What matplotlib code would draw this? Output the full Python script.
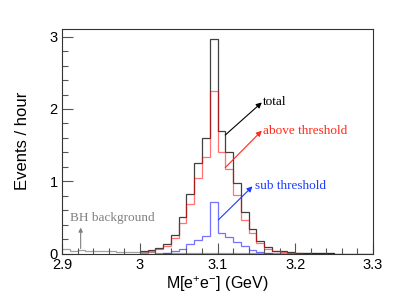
import matplotlib
matplotlib.use("Agg")
import matplotlib.pyplot as plt
import numpy as np

# 0.01 GeV bins from 2.90 to 3.30
bin_edges = np.round(np.arange(41) * 0.01 + 2.90, 2)

# events / hour in each bin
above = [0, 0, 0, 0, 0, 0, 0, 0, 0, 0,
         0.01, 0.03, 0.06, 0.11, 0.22, 0.42, 0.68, 1.05, 1.34, 2.25,
         1.41, 1.17, 0.81, 0.47, 0.28, 0.14, 0.07, 0.03, 0.02, 0.01,
         0.005, 0, 0, 0, 0, 0, 0, 0, 0, 0]
sub = [0, 0, 0, 0, 0, 0, 0, 0, 0, 0,
       0, 0, 0, 0.01, 0.03, 0.07, 0.13, 0.19, 0.25, 0.71,
       0.28, 0.23, 0.16, 0.10, 0.05, 0.02, 0.01, 0, 0, 0,
       0, 0, 0, 0, 0, 0, 0, 0, 0, 0]
bh = [0.06, 0.04, 0.05, 0.04, 0.03, 0.03, 0.03, 0.02, 0.02, 0.02,
      0.02, 0.02, 0.015, 0.015, 0.01, 0.01, 0.01, 0.01, 0.01, 0.01,
      0.01, 0.01, 0.01, 0.01, 0.01, 0.01, 0.01, 0.01, 0.01, 0.01,
      0.01, 0.008, 0.008, 0.006, 0.005, 0, 0, 0, 0, 0]

total = np.array(above) + np.array(sub) + np.array(bh)

plt.rcParams['font.family'] = ['Liberation Sans', 'DejaVu Sans']
plt.rcParams['mathtext.fontset'] = 'custom'
plt.rcParams['mathtext.rm'] = 'Liberation Sans'
plt.rcParams['mathtext.default'] = 'regular'

fig = plt.figure(figsize=(4.15, 2.98), dpi=100)
ax = fig.add_axes([0.1494, 0.149, 0.7494, 0.7537])

ax.stairs(bh, bin_edges, baseline=None, color='#a0a0a0', lw=0.9)
ax.stairs(total[10:], bin_edges[10:], baseline=None, color='black', alpha=0.75, lw=0.9)
ax.stairs(above[10:31], bin_edges[10:32], baseline=None, color='red', alpha=0.55, lw=0.9)
ax.stairs(sub[12:28], bin_edges[12:29], baseline=None, color='blue', alpha=0.55, lw=0.9)

serif = ['Liberation Serif', 'DejaVu Serif']
ax.annotate('', xy=(3.157, 2.09), xytext=(3.11, 1.64),
            arrowprops=dict(arrowstyle='-|>', color='black', lw=0.8, mutation_scale=8,
                            shrinkA=0, shrinkB=0))
ax.text(3.159, 2.09, 'total', fontsize=9.5, family=serif, color='black', va='center')
ax.annotate('', xy=(3.157, 1.70), xytext=(3.11, 1.19),
            arrowprops=dict(arrowstyle='-|>', color='#ff2a1a', lw=0.8, mutation_scale=8,
                            shrinkA=0, shrinkB=0))
ax.text(3.159, 1.70, 'above threshold', fontsize=9.5, family=serif, color='#ff2a1a', va='center')
ax.annotate('', xy=(3.145, 0.93), xytext=(3.101, 0.465),
            arrowprops=dict(arrowstyle='-|>', color='#1a3cff', lw=0.8, mutation_scale=8,
                            shrinkA=0, shrinkB=0))
ax.text(3.148, 0.93, 'sub threshold', fontsize=9.5, family=serif, color='#1a3cff', va='center')
ax.annotate('', xy=(2.924, 0.36), xytext=(2.924, 0.07),
            arrowprops=dict(arrowstyle='-|>', color='#808080', lw=0.8, mutation_scale=6,
                            shrinkA=0, shrinkB=0))
ax.text(2.910, 0.49, 'BH background', fontsize=9.5, family=serif, color='#808080', va='center')

ax.set_xlim(2.9, 3.3)
ax.set_ylim(0, 3.106)
ax.set_xticks([2.9, 3.0, 3.1, 3.2, 3.3])
ax.set_xticklabels(['2.9', '3', '3.1', '3.2', '3.3'])
ax.set_xticks(np.round(np.arange(21) * 0.02 + 2.9, 2), minor=True)
ax.set_yticks([0, 1, 2, 3])
ax.set_yticks(np.round(np.arange(16) * 0.2, 1), minor=True)
ax.tick_params(which='both', direction='in', labelsize=10.5, width=0.8, color='#555555')
ax.tick_params(which='major', length=8, pad=3)
ax.tick_params(which='minor', length=4)
for s in ax.spines.values():
    s.set_linewidth(0.8)
    s.set_color('#333333')

ax.set_xlabel('M[e$^{+}$e$^{-}$] (GeV)', fontsize=11.5, labelpad=2)
ax.set_ylabel('Events / hour', fontsize=12, labelpad=14)

fig.savefig('out.png', dpi=100)
